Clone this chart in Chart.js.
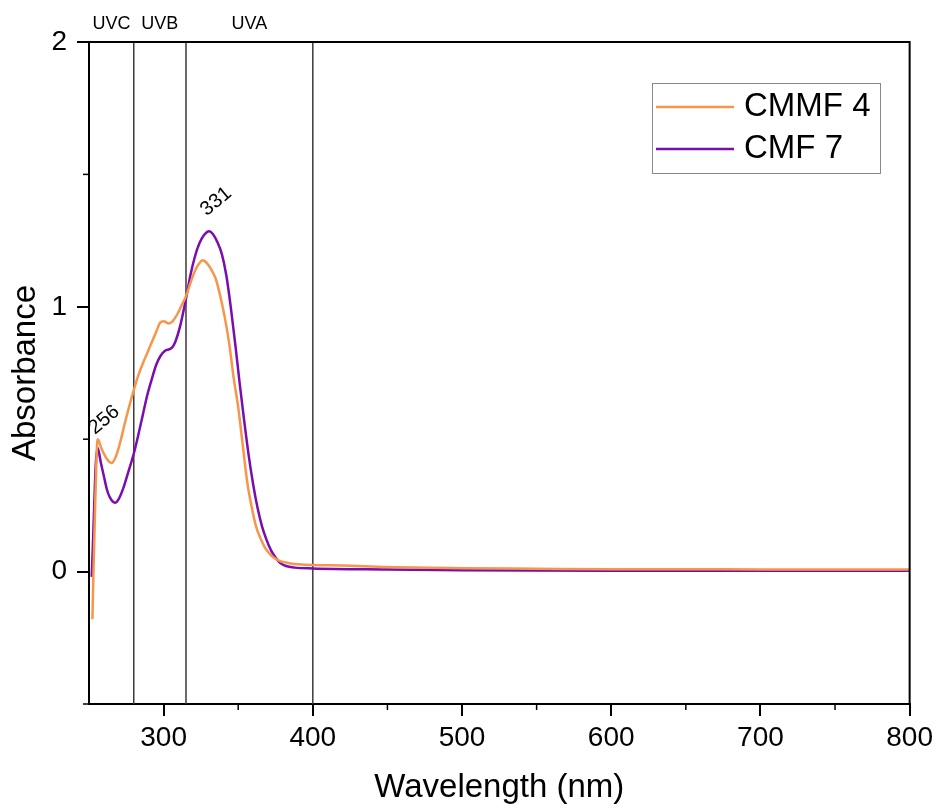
<!DOCTYPE html>
<html lang="en">
<head>
    <meta charset="UTF-8">
    <title>UV-Vis Absorbance</title>
    <script src="https://cdn.jsdelivr.net/npm/chart.js"></script>
    <style>
        body { margin: 0; background: #fff; }
    </style>
</head>
<body>
    <canvas id="uvChart" width="938" height="808"></canvas>

    <script>
        // CMMF 4 spectrum (wavelength in nm, absorbance)
        var cmmf4Wl  = [252.3, 253, 254, 255, 255.7, 256.5, 258, 260, 262, 265, 268, 271, 274, 277, 280, 283, 286, 289, 292, 295, 297.7, 300, 303.5, 306, 309, 312, 315, 318, 321, 324, 326.3, 329, 332, 335, 338, 341, 344, 347, 350, 353, 356, 359, 362, 365, 368, 371, 374, 377, 380, 385, 390, 400, 420, 450, 500, 550, 600, 650, 700, 750, 800];
        var cmmf4Abs = [-0.18, 0.0, 0.22, 0.42, 0.50, 0.495, 0.47, 0.445, 0.425, 0.41, 0.435, 0.49, 0.56, 0.625, 0.685, 0.74, 0.785, 0.825, 0.865, 0.905, 0.94, 0.945, 0.937, 0.945, 0.97, 1.005, 1.04, 1.09, 1.135, 1.165, 1.176, 1.165, 1.14, 1.105, 1.04, 0.96, 0.86, 0.73, 0.62, 0.48, 0.34, 0.245, 0.17, 0.125, 0.09, 0.068, 0.052, 0.042, 0.036, 0.031, 0.028, 0.025, 0.023, 0.017, 0.013, 0.011, 0.009, 0.009, 0.008, 0.008, 0.008];

        // CMF 7 spectrum
        var cmf7Wl  = [251.8, 252.5, 253.5, 254.5, 255.6, 256.5, 258, 260, 262, 264, 267.4, 270, 273, 276, 280, 283, 286, 289, 292, 295, 298, 301, 304, 306, 308, 311, 315, 318, 321, 324, 327, 330.5, 333, 336, 339, 342, 345, 348, 351, 354, 357, 360, 363, 366, 369, 372, 375, 378, 382, 388, 400, 450, 500, 600, 700, 800];
        var cmf7Abs = [-0.02, 0.08, 0.25, 0.40, 0.468, 0.455, 0.41, 0.36, 0.31, 0.28, 0.26, 0.275, 0.315, 0.37, 0.445, 0.515, 0.59, 0.665, 0.725, 0.78, 0.815, 0.834, 0.84, 0.848, 0.87, 0.925, 1.03, 1.12, 1.19, 1.24, 1.27, 1.285, 1.275, 1.245, 1.2, 1.12, 1.0, 0.86, 0.71, 0.57, 0.44, 0.33, 0.24, 0.17, 0.12, 0.08, 0.053, 0.033, 0.021, 0.015, 0.012, 0.008, 0.005, 0.003, 0.003, 0.003];

        var seriesNames  = ['CMMF 4', 'CMF 7'];
        var seriesColors = ['#f7964b', '#7a0cb0'];

        // axis ticks
        var xMajorTicks = [300, 400, 500, 600, 700, 800];
        var xMinorTicks = [350, 450, 550, 650, 750];
        var yMajorTicks = [0, 1, 2];
        var yMinorTicks = [-0.5, 0.5, 1.5];

        // UV band edges and labels
        var bandEdges  = [250, 280, 315, 400];
        var bandLabels = ['UVC', 'UVB', 'UVA'];

        // peak annotations (nm, absorbance just above the peak)
        var peakText = ['256', '331'];
        var peakX    = [256, 331];
        var peakY    = [0.52, 1.345];

        function toPoints(xs, ys) {
            return xs.map(function (x, i) { return { x: x, y: ys[i] }; });
        }

        var FONT = "'Liberation Sans', Arial, sans-serif";

        var extrasPlugin = {
            id: 'extras',
            beforeDatasetsDraw: function (chart) {
                var ctx = chart.ctx, a = chart.chartArea;
                var xs = chart.scales.x;
                ctx.save();
                // band boundary lines
                ctx.strokeStyle = '#3a3a3a';
                ctx.lineWidth = 1.5;
                bandEdges.slice(1).forEach(function (v) {
                    var px = xs.getPixelForValue(v);
                    ctx.beginPath();
                    ctx.moveTo(px, a.top);
                    ctx.lineTo(px, a.bottom);
                    ctx.stroke();
                });
                ctx.restore();
            },
            afterDraw: function (chart) {
                var ctx = chart.ctx, a = chart.chartArea;
                var xs = chart.scales.x, ys = chart.scales.y;
                ctx.save();

                // top and right frame
                ctx.strokeStyle = '#000';
                ctx.lineWidth = 2;
                ctx.beginPath();
                ctx.moveTo(a.left, a.top);
                ctx.lineTo(a.right, a.top);
                ctx.lineTo(a.right, a.bottom);
                ctx.stroke();

                // minor ticks
                ctx.lineWidth = 1.5;
                xMinorTicks.forEach(function (v) {
                    var px = xs.getPixelForValue(v);
                    ctx.beginPath();
                    ctx.moveTo(px, a.bottom);
                    ctx.lineTo(px, a.bottom + 6);
                    ctx.stroke();
                });
                yMinorTicks.forEach(function (v) {
                    var py = ys.getPixelForValue(v);
                    ctx.beginPath();
                    ctx.moveTo(a.left, py);
                    ctx.lineTo(a.left - 6, py);
                    ctx.stroke();
                });

                // band labels
                ctx.fillStyle = '#000';
                ctx.font = '18px ' + FONT;
                ctx.textAlign = 'center';
                ctx.textBaseline = 'alphabetic';
                bandLabels.forEach(function (t, i) {
                    var mid = (xs.getPixelForValue(bandEdges[i]) + xs.getPixelForValue(bandEdges[i + 1])) / 2;
                    ctx.fillText(t, mid, a.top - 13);
                });

                // peak labels
                ctx.font = '20px ' + FONT;
                ctx.textAlign = 'left';
                peakText.forEach(function (t, i) {
                    ctx.save();
                    ctx.translate(xs.getPixelForValue(peakX[i]) - 3, ys.getPixelForValue(peakY[i]) + 1);
                    ctx.rotate(-40 * Math.PI / 180);
                    ctx.fillText(t, 0, 0);
                    ctx.restore();
                });

                // legend
                var lx = 652, ly = 83, lw = 228, lh = 90;
                ctx.fillStyle = '#fff';
                ctx.fillRect(lx, ly, lw, lh);
                ctx.strokeStyle = '#888';
                ctx.lineWidth = 1;
                ctx.strokeRect(lx + 0.5, ly + 0.5, lw, lh);
                ctx.font = '33px ' + FONT;
                ctx.textAlign = 'left';
                ctx.textBaseline = 'middle';
                chart.data.datasets.forEach(function (ds, i) {
                    var rowY = ly + 24 + i * 42;
                    ctx.strokeStyle = ds.borderColor;
                    ctx.lineWidth = 2.5;
                    ctx.beginPath();
                    ctx.moveTo(lx + 4, rowY);
                    ctx.lineTo(lx + 82, rowY);
                    ctx.stroke();
                    ctx.fillStyle = '#000';
                    ctx.fillText(ds.label, lx + 92, rowY);
                });

                ctx.restore();
            }
        };

        var ctx = document.getElementById('uvChart').getContext('2d');
        var uvChart = new Chart(ctx, {
            type: 'line',
            data: {
                datasets: [
                    {
                        label: seriesNames[0],
                        data: toPoints(cmmf4Wl, cmmf4Abs),
                        borderColor: seriesColors[0],
                        borderWidth: 2.5,
                        pointRadius: 0,
                        fill: false,
                        cubicInterpolationMode: 'monotone',
                    },
                    {
                        label: seriesNames[1],
                        data: toPoints(cmf7Wl, cmf7Abs),
                        borderColor: seriesColors[1],
                        borderWidth: 2.5,
                        pointRadius: 0,
                        fill: false,
                        cubicInterpolationMode: 'monotone',
                    },
                ],
            },
            options: {
                responsive: false,
                animation: false,
                layout: { padding: { top: 42, right: 27, left: 0, bottom: 0 } },
                plugins: {
                    legend: { display: false },
                    tooltip: { enabled: false },
                },
                scales: {
                    x: {
                        type: 'linear',
                        min: 250,
                        max: 800,
                        afterBuildTicks: function (s) {
                            s.ticks = xMajorTicks.map(function (v) { return { value: v }; });
                        },
                        afterFit: function (s) { s.height = 104; },
                        grid: { display: true, drawOnChartArea: false, drawTicks: true, tickLength: 12, color: '#000', lineWidth: 2 },
                        border: { display: true, color: '#000', width: 2 },
                        ticks: { color: '#000', font: { family: FONT, size: 28 }, padding: 5, maxRotation: 0, autoSkip: false },
                        title: { display: true, text: 'Wavelength (nm)', color: '#000', font: { family: FONT, size: 33 }, padding: 0 },
                    },
                    y: {
                        min: -0.5,
                        max: 2,
                        afterBuildTicks: function (s) {
                            s.ticks = yMajorTicks.map(function (v) { return { value: v }; });
                        },
                        afterFit: function (s) { s.width = 89; },
                        grid: { display: true, drawOnChartArea: false, drawTicks: true, tickLength: 12, color: '#000', lineWidth: 2 },
                        border: { display: true, color: '#000', width: 2 },
                        ticks: { color: '#000', font: { family: FONT, size: 28 }, padding: 10 },
                        title: { display: true, text: 'Absorbance', color: '#000', font: { family: FONT, size: 33 }, padding: { top: 6, bottom: 0 } },
                    },
                },
            },
            plugins: [extrasPlugin],
        });
    </script>
</body>
</html>
